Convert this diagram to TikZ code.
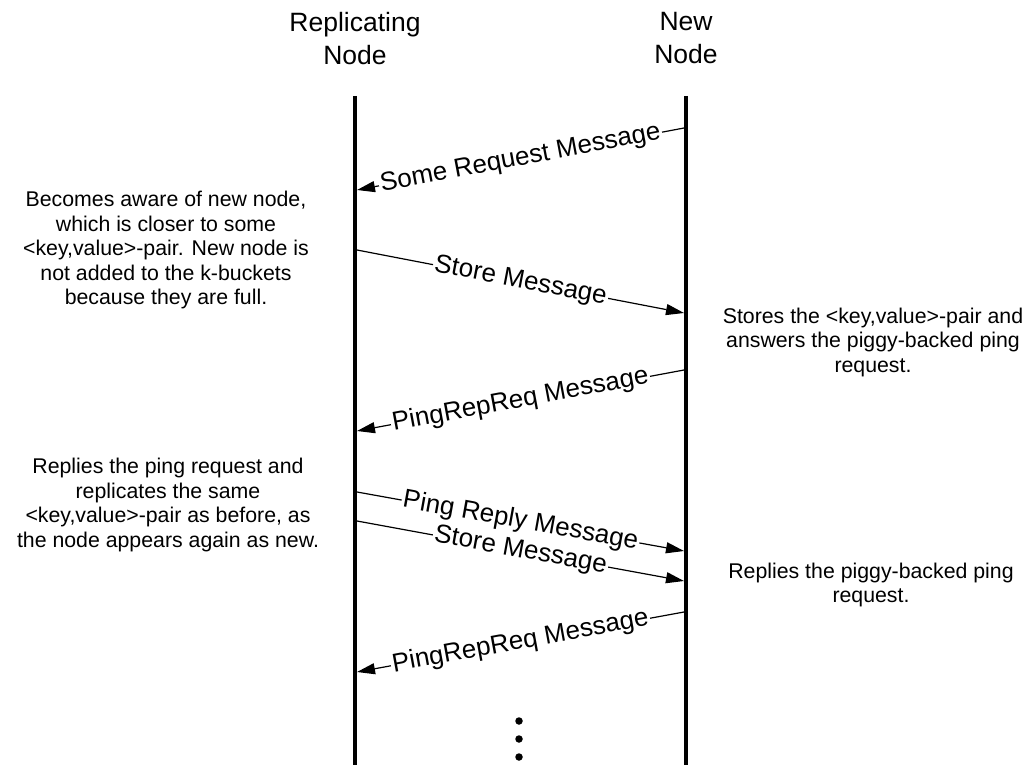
\documentclass[tikz,border=0pt]{standalone}
\usepackage{fontspec}
\setmainfont{Liberation Sans}
\usetikzlibrary{arrows.meta}

\tikzset{
  lifeline/.style={line width=4pt},
  msg/.style={line width=1.2pt, -{Triangle[length=18pt,width=11pt]}},
  msglabel/.style={sloped, fill=white, inner sep=1.5pt, font=\fontsize{26}{29}\selectfont},
  header/.style={align=center, font=\fontsize{26.5}{33}\selectfont},
  note/.style={align=center, font=\fontsize{21.3}{24.5}\selectfont},
  dot/.style={circle, fill=black, inner sep=0pt, minimum size=7.5pt},
}

\begin{document}
\begin{tikzpicture}[x=1pt, y=-1pt]
\useasboundingbox (0,0) rectangle (1033,765);

% column headers
\node[header] (hrep) at (355,38.5) {Replicating\\Node};
\node[header] (hnew) at (686,38.5) {New\\Node};

% lifelines
\coordinate (repTop) at (355,96);
\coordinate (repBot) at (355,765);
\coordinate (newTop) at (686,96);
\coordinate (newBot) at (686,765);
\draw[lifeline] (repTop) -- (repBot);
\draw[lifeline] (newTop) -- (newBot);

% message end points on the lifelines
\coordinate (m1s) at (684,128);  \coordinate (m1e) at (357,190);
\coordinate (m2s) at (357,250);  \coordinate (m2e) at (684,313);
\coordinate (m3s) at (684,370);  \coordinate (m3e) at (357,431);
\coordinate (m4s) at (357,492);  \coordinate (m4e) at (684,551);
\coordinate (m5s) at (357,521);  \coordinate (m5e) at (684,581);
\coordinate (m6s) at (684,612);  \coordinate (m6e) at (357,672);

% messages
\draw[msg] (m1s) -- node[msglabel] {Some Request Message} (m1e);
\draw[msg] (m2s) -- node[msglabel] {Store Message} (m2e);
\draw[msg] (m3s) -- node[msglabel] {PingRepReq Message} (m3e);
\draw[msg] (m4s) -- node[msglabel] {Ping Reply Message} (m4e);
\draw[msg] (m5s) -- node[msglabel] {Store Message} (m5e);
\draw[msg] (m6s) -- node[msglabel] {PingRepReq Message} (m6e);

% annotations
\node[note] (n1) at (166,250) {Becomes aware of new node,\\which is closer to some\\<key,value>-pair. New node is\\not added to the k-buckets\\because they are full.};
\node[note] (n2) at (873,342) {Stores the <key,value>-pair and\\answers the piggy-backed ping\\request.};
\node[note] (n3) at (168,505) {Replies the ping request and\\replicates the same\\<key,value>-pair as before, as\\the node appears again as new.};
\node[note] (n4) at (871,585) {Replies the piggy-backed ping\\request.};

% continuation dots
\node[dot] (d1) at (519,721) {};
\node[dot] (d2) at (519,739) {};
\node[dot] (d3) at (519,757) {};
\end{tikzpicture}
\end{document}
